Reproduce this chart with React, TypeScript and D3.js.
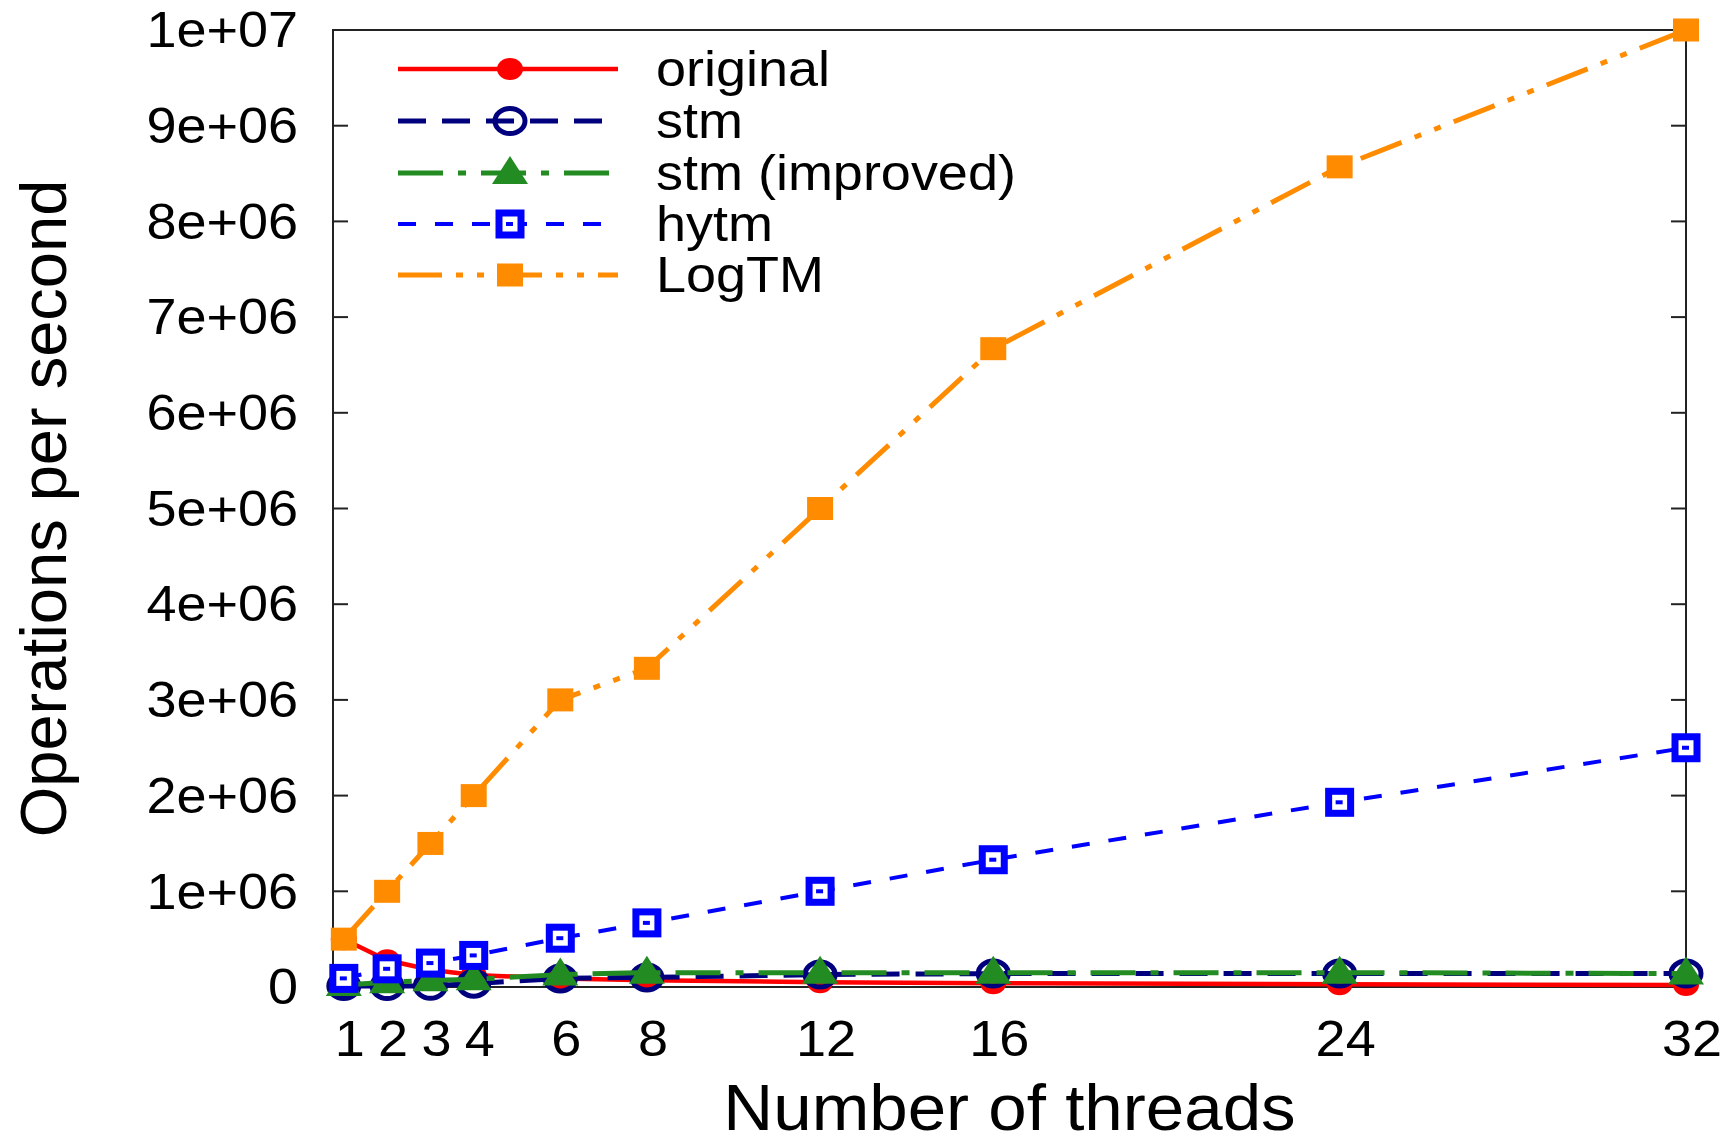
import React from 'react';
import * as d3 from 'd3';

const threads = [1, 2, 3, 4, 6, 8, 12, 16, 24, 32];
const original = [500000, 280000, 180000, 125000, 90000, 70000, 50000, 40000, 30000, 20000];
const stm = [10000, 10000, 12000, 35000, 90000, 100000, 130000, 140000, 140000, 140000];
const stmImproved = [20000, 50000, 70000, 80000, 130000, 150000, 150000, 150000, 150000, 140000];
const hytm = [90000, 190000, 250000, 330000, 510000, 670000, 1000000, 1330000, 1930000, 2500000];
const logtm = [500000, 1000000, 1500000, 2000000, 3000000, 3330000, 5000000, 6670000, 8570000, 10000000];

const yTicks = [0, 1e6, 2e6, 3e6, 4e6, 5e6, 6e6, 7e6, 8e6, 9e6, 1e7];
const yTickLabels = ['0', '1e+06', '2e+06', '3e+06', '4e+06', '5e+06', '6e+06', '7e+06', '8e+06', '9e+06', '1e+07'];
const xTicks = [1, 2, 3, 4, 6, 8, 12, 16, 24, 32];
const seriesNames = ['original', 'stm', 'stm (improved)', 'hytm', 'LogTM'];

const W = 1729;
const H = 1143;
const L = 333, R = 1686, T = 30, B = 987;
const FONT = '"Liberation Sans", Arial, Helvetica, sans-serif';
const SX = 1.08;

type Style = { color: string; width: number; dash: string; marker: string };
const styles: Style[] = [
  { color: '#ff0000', width: 4.5, dash: '', marker: 'dot' },
  { color: '#00007f', width: 5, dash: '28 16', marker: 'circle' },
  { color: '#228b22', width: 5, dash: '45 15 8 15', marker: 'triangle' },
  { color: '#0000ff', width: 4, dash: '18 19', marker: 'box' },
  { color: '#ff8c00', width: 5, dash: '44 14 7 14 7 14', marker: 'square' },
];

function Marker({ kind, x, y, color }: { kind: string; x: number; y: number; color: string }) {
  if (kind === 'dot') return <ellipse cx={x} cy={y} rx={13} ry={11} fill={color} />;
  if (kind === 'circle')
    return <ellipse cx={x} cy={y} rx={15} ry={12.5} fill="none" stroke={color} strokeWidth={5} />;
  if (kind === 'triangle') {
    const w = 36, h = 28, o = -3;
    const p = `${x},${y + o - h / 2} ${x + w / 2},${y + o + h / 2} ${x - w / 2},${y + o + h / 2}`;
    return <polygon points={p} fill={color} />;
  }
  if (kind === 'box')
    return (
      <g>
        <rect x={x - 11} y={y - 11} width={22} height={22} fill="white" stroke={color} strokeWidth={7} />
        <rect x={x - 4} y={y - 2} width={7} height={4} fill={color} />
      </g>
    );
  return <rect x={x - 13} y={y - 11.5} width={26} height={23} fill={color} />;
}

function HText({ x, y, anchor, size, children, baseline }: any) {
  return (
    <g transform={`translate(${x},${y}) scale(${SX},1)`}>
      <text
        x={0}
        y={0}
        textAnchor={anchor}
        dominantBaseline={baseline || 'auto'}
        fontFamily={FONT}
        fontSize={size}
        fill="#000"
      >
        {children}
      </text>
    </g>
  );
}

export default function App() {
  const x = d3.scaleLinear().domain([0.75, 32]).range([L, R]);
  const y = d3.scaleLinear().domain([0, 1e7]).range([B, T]);
  const allSeries = [original, stm, stmImproved, hytm, logtm];
  const line = d3
    .line<number>()
    .x((_, i) => x(threads[i]))
    .y((d) => y(d));

  const legendY = [69, 121, 173, 224, 275];

  return (
    <svg
      width={W}
      height={H}
      style={{ position: 'absolute', left: 0, top: 0, background: '#fff' }}
    >
      <rect x={0} y={0} width={W} height={H} fill="#fff" />
      {/* ticks */}
      {yTicks.map((t) => (
        <g key={'yt' + t}>
          <line x1={L} x2={L + 15} y1={y(t)} y2={y(t)} stroke="#222" strokeWidth={2} />
          <line x1={R} x2={R - 15} y1={y(t)} y2={y(t)} stroke="#222" strokeWidth={2} />
        </g>
      ))}
      {xTicks.map((t) => (
        <line key={'xt' + t} x1={x(t)} x2={x(t)} y1={B} y2={B - 15} stroke="#222" strokeWidth={2} />
      ))}
      {/* tick labels */}
      {yTicks.map((t, i) => (
        <HText key={'yl' + t} x={298} y={y(t)} anchor="end" size={50} baseline="central">
          {yTickLabels[i]}
        </HText>
      ))}
      {xTicks.map((t) => (
        <HText key={'xl' + t} x={Math.min(x(t) + 6, 1695)} y={1056} anchor="middle" size={50}>
          {String(t)}
        </HText>
      ))}
      {/* axis titles */}
      <HText x={(L + R) / 2} y={1130} anchor="middle" size={64}>
        Number of threads
      </HText>
      <text
        transform={`translate(66,${(T + B) / 2}) rotate(-90)`}
        textAnchor="middle"
        fontFamily={FONT}
        fontSize={65}
        fill="#000"
      >
        Operations per second
      </text>
      {/* frame */}
      <rect x={L} y={T} width={R - L} height={B - T} fill="none" stroke="#222" strokeWidth={2} />
      {/* series */}
      {allSeries.map((s, si) => {
        const st = styles[si];
        return (
          <g key={'s' + si}>
            <path
              d={line(s) || ''}
              fill="none"
              stroke={st.color}
              strokeWidth={st.width}
              strokeDasharray={st.dash}
              strokeLinejoin="round"
            />
            {s.map((v, i) => (
              <Marker key={i} kind={st.marker} x={x(threads[i])} y={y(v)} color={st.color} />
            ))}
          </g>
        );
      })}
      {/* legend */}
      {seriesNames.map((name, i) => {
        const st = styles[i];
        const ly = legendY[i];
        return (
          <g key={'lg' + i}>
            <line
              x1={398}
              x2={618}
              y1={ly}
              y2={ly}
              stroke={st.color}
              strokeWidth={st.width}
              strokeDasharray={st.dash}
            />
            <Marker kind={st.marker} x={510} y={ly} color={st.color} />
            <HText x={656} y={ly} anchor="start" size={50} baseline="central">
              {name}
            </HText>
          </g>
        );
      })}
    </svg>
  );
}
